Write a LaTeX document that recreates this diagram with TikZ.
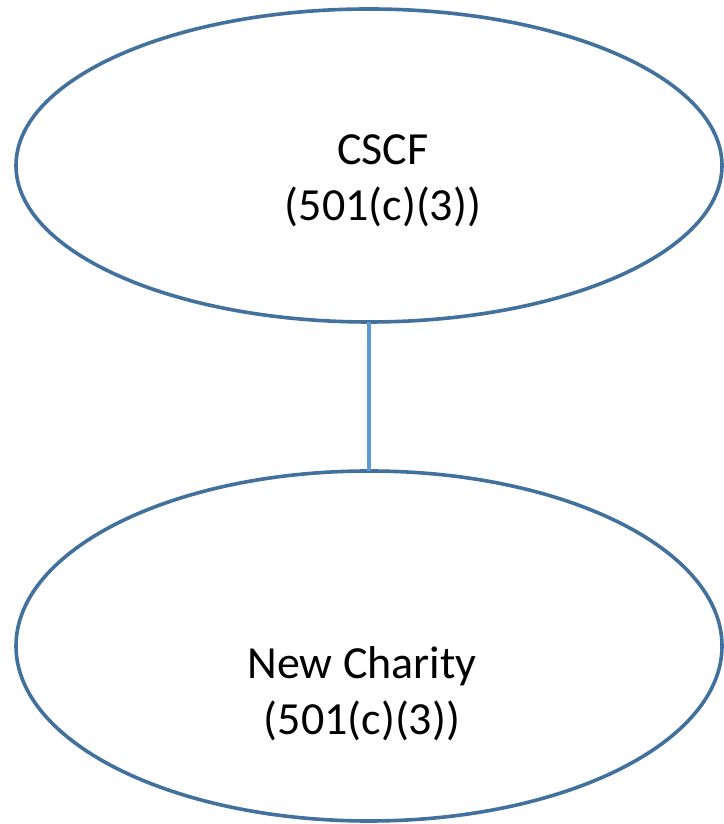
\documentclass[tikz,border=0pt]{standalone}
\usepackage{fontspec}
\setmainfont{Carlito}
\usetikzlibrary{shapes.geometric}
\definecolor{edgeblue}{HTML}{41719C}
\definecolor{linkblue}{HTML}{5B9BD5}
\tikzset{
  oval/.style={ellipse, draw=edgeblue, line width=3.6pt, fill=white, inner sep=0pt, outer sep=0pt},
  lbl/.style={align=center, font=\fontsize{46}{56}\selectfont, inner sep=0pt, text=black},
  link/.style={draw=linkblue, line width=3.2pt}
}
\begin{document}
\begin{tikzpicture}[x=1pt,y=1pt]
\useasboundingbox[fill=white] (0,0) rectangle (723,824);
\node[oval, minimum width=706pt, minimum height=313pt] (top) at (369,658.5) {};
\node[oval, minimum width=706pt, minimum height=350pt] (bot) at (369,178) {};
\draw[link] (top.south) -- (bot.north);
\node[lbl] (toptext) at ([xshift=14pt,yshift=-15pt]top.center) {CSCF\\(501(c)(3))};
\node[lbl] (bottext) at ([xshift=-7pt,yshift=-48pt]bot.center) {New Charity\\(501(c)(3))};
\end{tikzpicture}
\end{document}
